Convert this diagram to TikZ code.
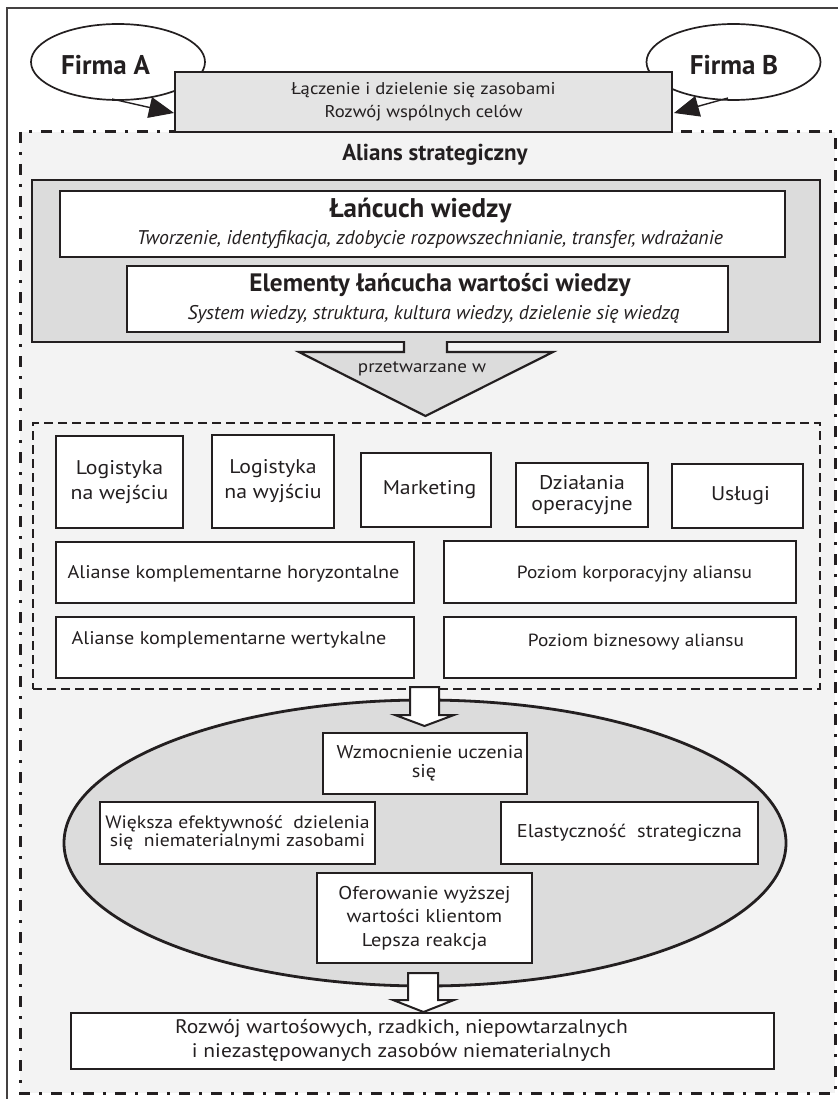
\documentclass[tikz,border=0pt]{standalone}
\usepackage{fontspec}
\setmainfont{PT Sans}
\newfontfamily\widesans{PT Sans}[FakeStretch=1.1]
\usetikzlibrary{arrows.meta,shapes.geometric}

\definecolor{ink}{HTML}{231F20}
\definecolor{pagebg}{HTML}{F3F3F3}
\definecolor{boxgray}{HTML}{E4E4E4}
\definecolor{deepgray}{HTML}{DCDCDC}

\newcommand{\fsz}[2]{\fontsize{#1}{#2}\selectfont}

\tikzset{
  every node/.style={text=ink},
  frm/.style={draw=ink, line width=2.2pt, fill=white, align=center, inner sep=2pt},
  txt/.style={align=center, inner sep=0pt},
  body/.style={font=\widesans\fsz{19.8}{25}},
  wide/.style={font=\widesans\fsz{18.3}{25}},
  level/.style={font=\widesans\fsz{17.6}{25}},
  small/.style={font=\widesans\fsz{18.5}{19}},
  firm/.style={draw=ink, line width=1.7pt, fill=white, ellipse, inner sep=0pt,
               minimum width=174pt, minimum height=76pt},
  firmtxt/.style={inner sep=0pt, font=\fsz{27}{32}\bfseries},
  linkarrow/.style={draw=ink, line width=1.4pt, -{Triangle[length=25pt,width=21pt]}},
  hollow/.style={draw=ink, line width=2pt, fill=white, line join=miter},
  dashdot/.style={draw=ink, line width=3pt, dash pattern=on 11pt off 9pt on 3pt off 9pt},
  dashbox/.style={draw=ink, line width=1.8pt, dash pattern=on 9pt off 5pt},
  ttl/.style={font=\fsz{27}{30}\bfseries},
  sub/.style={font=\fsz{19.8}{24}\itshape},
}

\begin{document}
\begin{tikzpicture}[x=1pt,y=-1pt]
\useasboundingbox (0,0) rectangle (837,1099);

% thin outer frame
\draw[draw=ink!85, line width=1.1pt] (7,1110) -- (7,8) -- (850,8);

% alliance area
\fill[pagebg] (20,132) rectangle (835,1093);
\draw[dashdot] (20,132) rectangle (835,1093);

% the two firms
\node[firm] (fa) at (118,62) {};
\node[firm] (fb) at (733.5,62) {};
\node[firmtxt] (fatxt) at (105.5,65) {Firma A};
\node[firmtxt] (fbtxt) at (734,65) {Firma B};

\coordinate (fastart) at (112,99);
\coordinate (fbstart) at (728,98);
\coordinate (satip) at (174,113);
\coordinate (sbtip) at (674,113);

% shared resources box
\node[frm, fill=boxgray, minimum width=497pt, minimum height=60pt,
      font=\widesans\fsz{17}{23}] (share) at (423.5,102)
  {Łączenie i dzielenie się zasobami\\Rozwój wspólnych celów};
\draw[linkarrow] (fastart) -- (satip);
\draw[linkarrow] (fbstart) -- (sbtip);

% title of the alliance
\node[txt, font=\fsz{23}{28}\bfseries] (alliance) at (435,155) {Alians strategiczny};

% knowledge chain frame
\node[draw=ink, line width=2.6pt, fill=deepgray, minimum width=788pt, minimum height=162pt, inner sep=0pt] (chain) at (426,261) {};
\node[frm, minimum width=725pt, minimum height=66pt] (kchain) at (422.5,224) {};
\node[txt, ttl] (kchaint) at (420.5,211) {Łańcuch wiedzy};
\node[txt, sub] (kchains) at (430,240) {Tworzenie, identyfikacja, zdobycie rozpowszechnianie, transfer, wdrażanie};
\node[frm, minimum width=601pt, minimum height=66pt] (kvalue) at (427.5,299) {};
\node[txt, font=\fsz{25.2}{30}\bfseries] (kvaluet) at (440,285) {Elementy łańcucha wartości wiedzy};
\node[txt, sub] (kvalues) at (433.5,314) {System wiedzy, struktura, kultura wiedzy, dzielenie się wiedzą};

% processing arrow
\fill[deepgray] (404,339) -- (447,339) -- (447,352) -- (553,352) -- (425.5,416) -- (299,352) -- (404,352) -- cycle;
\draw[draw=ink, line width=2.2pt, line join=miter] (404,341) -- (404,352) -- (299,352) -- (425.5,416) -- (553,352) -- (447,352) -- (447,341);
\node[txt, font=\widesans\fsz{17.3}{20}] (proc) at (422,369) {przetwarzane w};

% value chain activities
\node[dashbox, minimum width=787pt, minimum height=266pt, inner sep=0pt] (acts) at (426.5,556) {};
\node[frm, body, minimum width=127pt, minimum height=92pt] (lw) at (119.5,482) {Logistyka\\na wejściu};
\node[frm, body, minimum width=122pt, minimum height=93pt] (lo) at (273,481.5) {Logistyka\\na wyjściu};
\node[frm, body, minimum width=130pt, minimum height=74pt] (mk) at (426,490) {\hspace*{7pt}Marketing};
\node[frm, font=\widesans\fsz{19.8}{20.5}, minimum width=132pt, minimum height=64pt] (dz) at (582,495) {Działania\\operacyjne};
\node[frm, body, minimum width=131pt, minimum height=64pt] (us) at (737.5,496) {\hspace*{6pt}Usługi};
\node[frm, minimum width=358pt, minimum height=61pt] (ah) at (235,572.5) {};
\node[txt, wide] (aht) at (233.5,574) {Alianse komplementarne horyzontalne};
\node[frm, minimum width=352pt, minimum height=62pt] (pk) at (620,572) {};
\node[txt, level] (pkt) at (634.5,574) {Poziom korporacyjny aliansu};
\node[frm, minimum width=358pt, minimum height=61pt] (aw) at (235,647.5) {};
\node[txt, wide] (awt) at (229,640) {Alianse komplementarne wertykalne};
\node[frm, minimum width=352pt, minimum height=61pt] (pb) at (620,647.5) {};
\node[txt, level] (pbt) at (636,642) {Poziom biznesowy aliansu};

% effects of the alliance
\node[draw=ink, line width=2.8pt, fill=deepgray, ellipse, minimum width=722pt, minimum height=286pt, inner sep=0pt] (effects) at (425,843) {};
\draw[hollow] (410,687) -- (439,687) -- (439,715) -- (454,715) -- (424.5,726) -- (395,715) -- (410,715) -- cycle;
\node[frm, minimum width=204pt, minimum height=61pt] (learn) at (425,763.5) {};
\node[txt, small] (learnt) at (430,763.5) {Wzmocnienie uczenia\\\hspace*{-12pt}się};
\node[frm, font=\widesans\fsz{17.9}{18.5}, minimum width=275pt, minimum height=62pt] (share2) at (237.5,833) {Większa efektywność~~dzielenia\\się~~niematerialnymi zasobami};
\node[frm, small, minimum width=257pt, minimum height=62pt] (flex) at (629.5,833) {Elastyczność~~strategiczna};
\node[frm, font=\widesans\fsz{18.5}{23.5}, minimum width=215pt, minimum height=90pt] (offer) at (424.5,918) {Oferowanie wyższej\\wartości klientom\\Lepsza reakcja};

% resulting resources
\draw[hollow] (408,973) -- (438,973) -- (438,1000) -- (454,1000) -- (423.5,1012) -- (393,1000) -- (408,1000) -- cycle;
\node[frm, minimum width=703pt, minimum height=56pt] (result) at (422.5,1041) {};
\node[txt, font=\widesans\fsz{19.6}{24}] (resultt) at (401.5,1040) {Rozwój wartośowych, rzadkich, niepowtarzalnych\\i niezastępowanych zasobów niematerialnych};
\end{tikzpicture}
\end{document}
